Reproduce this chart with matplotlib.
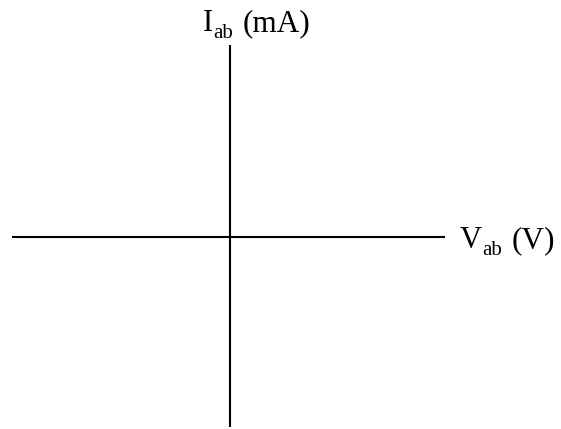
import matplotlib
matplotlib.use("Agg")
import matplotlib.pyplot as plt

plt.rcParams['font.family'] = ['Liberation Serif', 'DejaVu Serif']

# axis lines in pixel-space coordinates of the canvas
h_axis_x = [12, 445]
h_axis_y = [237, 237]
v_axis_x = [230, 230]
v_axis_y = [45, 427]

# label pieces: main symbol, subscript, unit
x_label = ["V", "ab", "(V)"]
y_label = ["I", "ab", "(mA)"]

fig = plt.figure(figsize=(5.61, 4.29), dpi=100)
ax = fig.add_axes([0, 0, 1, 1])
ax.set_xlim(0, 561)
ax.set_ylim(429, 0)
ax.axis('off')

ax.plot(h_axis_x, h_axis_y, color='black', lw=1.5, solid_capstyle='butt')
ax.plot(v_axis_x, v_axis_y, color='black', lw=1.5, solid_capstyle='butt')

def label(pieces, xs, base):
    main, sub, unit = pieces
    ax.text(xs[0], base, main, fontsize=22, ha='left', va='baseline')
    ax.text(xs[1], base + 7, sub, fontsize=15, ha='left', va='baseline')
    ax.text(xs[2], base, unit, fontsize=22.5, ha='left', va='baseline')

label(y_label, [203, 213, 243], 31)
label(x_label, [460, 482, 512], 248)

fig.savefig("out.png", dpi=100)
